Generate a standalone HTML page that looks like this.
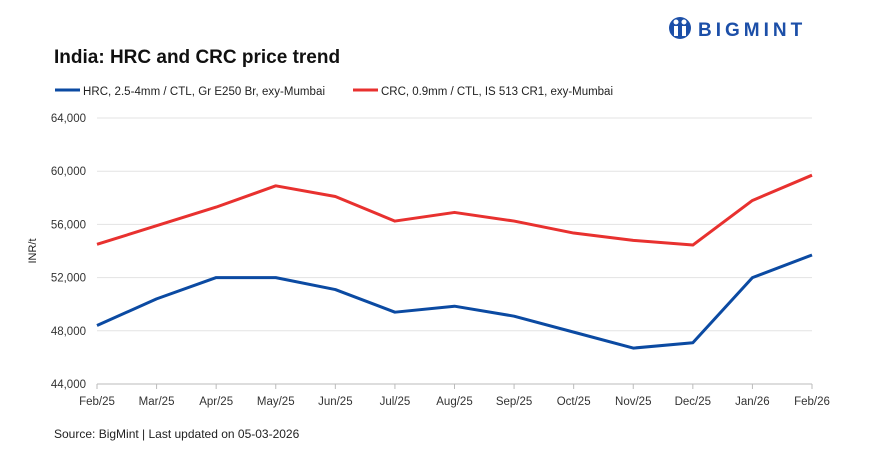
<!DOCTYPE html>
<html><head><meta charset="utf-8"><style>
body{margin:0;background:#fff;font-family:"Liberation Sans",sans-serif;}
svg text{font-family:"Liberation Sans",sans-serif;}
</style></head><body>
<svg width="881" height="449" xmlns="http://www.w3.org/2000/svg">
<g>
<circle cx="680" cy="28" r="11" fill="#1c4fa8"/>
<circle cx="676" cy="22" r="2.5" fill="#fff"/><circle cx="684" cy="22" r="2.5" fill="#fff"/>
<rect x="674" y="26" width="4" height="10" fill="#fff"/><rect x="682" y="26" width="4" height="10" fill="#fff"/>
<text x="698" y="36" font-size="19" font-weight="bold" fill="#1c4fa8" letter-spacing="4">BIGMINT</text>
</g>
<text x="54" y="63" font-size="19" font-weight="bold" fill="#111">India: HRC and CRC price trend</text>
<g>
<line x1="55" y1="90" x2="80" y2="90" stroke="#0b4aa2" stroke-width="3"/>
<text x="83" y="95" font-size="11.5" fill="#222" textLength="242">HRC, 2.5-4mm / CTL, Gr E250 Br, exy-Mumbai</text>
<line x1="353" y1="90" x2="378" y2="90" stroke="#e8312f" stroke-width="3"/>
<text x="381" y="95" font-size="11.5" fill="#222" textLength="232">CRC, 0.9mm / CTL, IS 513 CR1, exy-Mumbai</text>
</g>
<text transform="translate(36,251) rotate(-90)" text-anchor="middle" font-size="11" fill="#222">INR/t</text>
<g id="grid"></g><g id="marks"></g>
<text x="54" y="438" font-size="12" fill="#222">Source: BigMint | Last updated on  05-03-2026</text>
</svg>
<script>
const categories=["Feb/25","Mar/25","Apr/25","May/25","Jun/25","Jul/25","Aug/25","Sep/25","Oct/25","Nov/25","Dec/25","Jan/26","Feb/26"];
const hrcValues=[48400,50400,52000,52000,51100,49400,49850,49100,47900,46700,47100,52000,53700];
const crcValues=[54500,55900,57300,58900,58100,56250,56900,56250,55350,54800,54450,57800,59700];
const yTicks=[44000,48000,52000,56000,60000,64000];
const NS="http://www.w3.org/2000/svg";
const x=i=>97+i*(812-97)/(categories.length-1);
const y=v=>384-(v-44000)*(384-118)/20000;
const grid=document.getElementById('grid'),marks=document.getElementById('marks');
function mk(t,a,p){const e=document.createElementNS(NS,t);for(const k in a)e.setAttribute(k,a[k]);p.appendChild(e);return e;}
yTicks.forEach(v=>{
 const l=mk('line',{x1:97,x2:812,y1:y(v),y2:y(v),stroke:v===44000?'#bbb':'#e3e3e3'},grid);
 
 
 const t=mk('text',{x:86,y:y(v)+4,'text-anchor':'end','font-size':11.5,fill:'#333'},grid);
 t.textContent=v.toLocaleString('en-US');
 
 
});
categories.forEach((c,i)=>{
 mk('line',{x1:x(i),x2:x(i),y1:384,y2:389,stroke:'#bbb'},grid);
 const t=mk('text',{x:x(i),y:405,'text-anchor':'middle','font-size':11.5,fill:'#333'},grid);
 t.textContent=c;
 
 
});
function line(vals,col,name){
 const p=mk('polyline',{points:vals.map((v,i)=>x(i)+','+y(v)).join(' '),fill:'none',stroke:col,'stroke-width':3,'stroke-linejoin':'round'},marks);
 
 
}
line(crcValues,'#e8312f','crc-line');
line(hrcValues,'#0b4aa2','hrc-line');
</script>
</body></html>
